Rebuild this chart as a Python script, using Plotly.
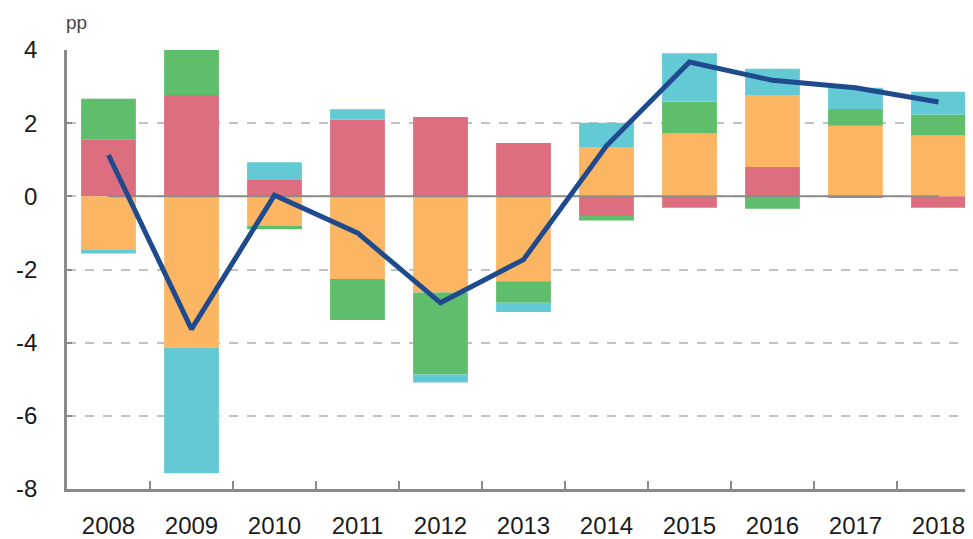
import plotly.graph_objects as go

years = ["2008", "2009", "2010", "2011", "2012", "2013", "2014", "2015", "2016", "2017", "2018"]

# contributions (pp)
red_vals    = [1.56, 2.77, 0.47, 2.10, 2.17, 1.46, -0.54, -0.31, 0.80, -0.02, -0.31]
orange_vals = [-1.45, -4.14, -0.81, -2.26, -2.63, -2.32, 1.35, 1.72, 1.97, 1.93, 1.66]
green_vals  = [1.11, 1.23, -0.09, -1.12, -2.24, -0.59, -0.12, 0.87, -0.34, 0.46, 0.58]
cyan_vals   = [-0.11, -3.43, 0.46, 0.28, -0.22, -0.25, 0.66, 1.32, 0.72, 0.58, 0.62]
total_vals  = [1.13, -3.63, 0.03, -1.00, -2.91, -1.73, 1.38, 3.67, 3.17, 2.97, 2.58]
zero_vals   = [0] * len(years)

y_ticks = [-8, -6, -4, -2, 0, 2, 4]

RED = "#DC6E7F"
ORANGE = "#FBB563"
GREEN = "#5EBE6B"
CYAN = "#63C9D4"
NAVY = "#1F4B8E"
AXIS = "#8A8A8A"

fig = go.Figure()
for vals, col in [(red_vals, RED), (orange_vals, ORANGE), (green_vals, GREEN), (cyan_vals, CYAN)]:
    fig.add_trace(go.Bar(x=years, y=vals, marker=dict(color=col, line=dict(width=0)),
                         width=0.66, showlegend=False, hoverinfo="skip"))

fig.add_trace(go.Scatter(x=years, y=zero_vals, mode="lines",
                         line=dict(color="#8C8C8C", width=2), showlegend=False, hoverinfo="skip"))
fig.add_trace(go.Scatter(x=years, y=total_vals, mode="lines",
                         line=dict(color=NAVY, width=5), showlegend=False))

# page body has an 8px margin: figure sits at (8, 8)
fig.update_layout(
    width=965, height=531,
    barmode="relative",
    bargap=0.34,
    plot_bgcolor="white", paper_bgcolor="white",
    margin=dict(l=59, r=0, t=42, b=43),
    font=dict(family="Liberation Sans, Arial, sans-serif", color="#1A1A1A"),
    xaxis=dict(
        type="category",
        range=[-0.5, 10.416],
        showgrid=False,
        showline=True, linecolor=AXIS, linewidth=2.5,
        ticks="inside", tickson="boundaries", ticklen=8, tickwidth=2, tickcolor=AXIS,
        tickfont=dict(size=24, color="#1A1A1A"),
        ticklabelstandoff=13,
        zeroline=False,
    ),
    yaxis=dict(
        range=[-8, 4],
        tickvals=y_ticks,
        ticktext=[str(v) for v in y_ticks],
        showgrid=True, gridcolor="#C2C2C2", gridwidth=1.5, griddash="dash",
        showline=True, linecolor=AXIS, linewidth=2.5,
        ticks="inside", ticklen=5, tickwidth=2, tickcolor=AXIS,
        tickfont=dict(size=24, color="#1A1A1A"),
        ticklabelstandoff=22,
        zeroline=False,
    ),
    annotations=[dict(text="pp", xref="paper", yref="paper", x=-0.003, y=1.062,
                      xanchor="left", yanchor="middle", showarrow=False,
                      font=dict(size=19, color="#444444"))],
)

fig.write_html("out.html")
